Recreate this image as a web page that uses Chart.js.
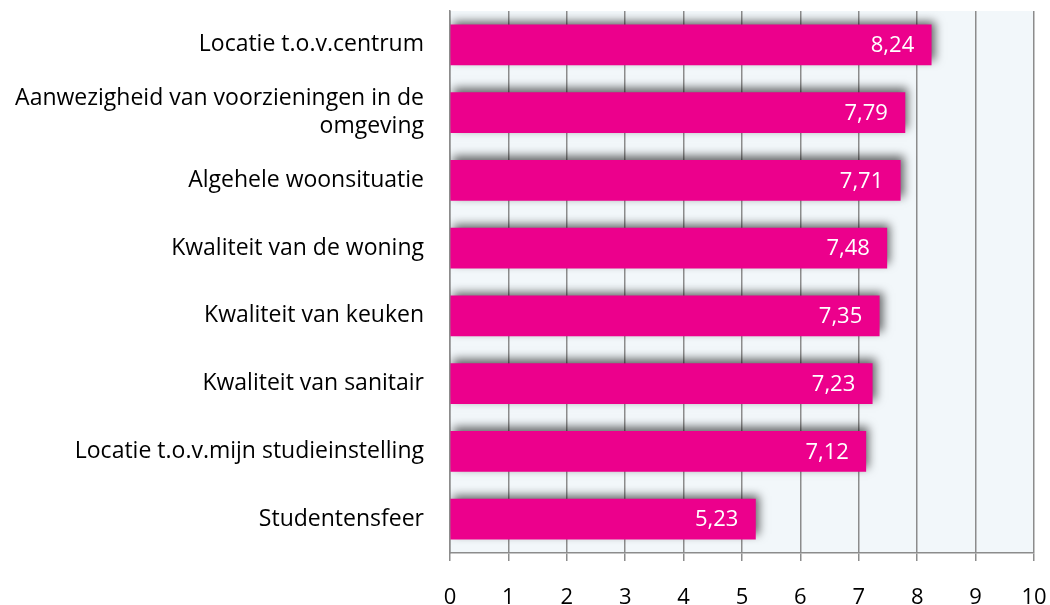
<!DOCTYPE html>
<html>
<head>
<meta charset="utf-8">
<script src="https://cdn.jsdelivr.net/npm/chart.js@4/dist/chart.umd.min.js"></script>
<style>
  html, body { margin: 0; padding: 0; background: #fff; }
  #wrap { width: 1050px; height: 605px; position: relative; }
</style>
</head>
<body>
<div id="wrap"><canvas id="chart"></canvas></div>
<script>
// categories and scores
const categories = [
    'Locatie t.o.v.centrum',
    ['Aanwezigheid van voorzieningen in de', 'omgeving'],
    'Algehele woonsituatie',
    'Kwaliteit van de woning',
    'Kwaliteit van keuken',
    'Kwaliteit van sanitair',
    'Locatie t.o.v.mijn studieinstelling',
    'Studentensfeer'
];
const scores = [8.24, 7.79, 7.71, 7.48, 7.35, 7.23, 7.12, 5.23];
const xTicks = [0, 1, 2, 3, 4, 5, 6, 7, 8, 9, 10];

const FONT = '"Open Sans", Lato, sans-serif';
const BAR_COLOR = '#EC008C';
const GRID_COLOR = '#8c8c8c';

// light plot background
const plotBackground = {
    id: 'plotBackground',
    beforeDraw(chart) {
        const { ctx, chartArea: a } = chart;
        ctx.save();
        ctx.fillStyle = '#F2F7FA';
        ctx.fillRect(a.left, a.top, a.right - a.left, a.bottom - a.top);
        ctx.restore();
    }
};

// soft shadow behind the bars
const barShadow = {
    id: 'barShadow',
    beforeDatasetsDraw(chart) {
        const ctx = chart.ctx;
        ctx.save();
        ctx.shadowColor = 'rgba(0, 0, 0, 0.6)';
        ctx.shadowBlur = 9;
        ctx.shadowOffsetX = 3;
        ctx.shadowOffsetY = -4;
    },
    afterDatasetsDraw(chart) {
        chart.ctx.restore();
    }
};

// value labels inside the bar ends
const valueLabels = {
    id: 'valueLabels',
    afterDatasetsDraw(chart) {
        const ctx = chart.ctx;
        const meta = chart.getDatasetMeta(0);
        ctx.save();
        ctx.fillStyle = '#ffffff';
        ctx.font = '22px ' + FONT;
        ctx.textAlign = 'right';
        ctx.textBaseline = 'middle';
        meta.data.forEach((bar, i) => {
            const txt = scores[i].toFixed(2).replace('.', ',');
            ctx.fillText(txt, bar.x - 17, bar.y + 1);
        });
        ctx.restore();
    }
};

new Chart(document.getElementById('chart'), {
    type: 'bar',
    data: {
        labels: categories,
        datasets: [{
            data: scores,
            backgroundColor: BAR_COLOR,
            borderWidth: 0,
            barThickness: 40
        }]
    },
    options: {
        indexAxis: 'y',
        responsive: true,
        maintainAspectRatio: false,
        animation: false,
        layout: {
            padding: { top: 11, right: 16, left: 0, bottom: 0 }
        },
        plugins: {
            legend: { display: false },
            tooltip: { enabled: false }
        },
        scales: {
            x: {
                min: 0,
                max: 10,
                afterBuildTicks(axis) {
                    axis.ticks = xTicks.map(v => ({ value: v }));
                },
                afterFit(axis) {
                    axis.height = 52;
                    axis.paddingLeft = 0;
                    axis.paddingRight = 0;
                },
                grid: {
                    color: GRID_COLOR,
                    lineWidth: 1.5,
                    tickLength: 8,
                    drawTicks: true
                },
                border: { color: GRID_COLOR, width: 1.5 },
                ticks: {
                    color: '#000',
                    padding: 24,
                    font: { family: FONT, size: 22 }
                }
            },
            y: {
                afterFit(axis) {
                    axis.width = 450;
                    axis.paddingTop = 0;
                    axis.paddingBottom = 0;
                },
                grid: { display: false, drawTicks: false },
                border: { color: GRID_COLOR, width: 1.5 },
                ticks: {
                    color: '#000',
                    padding: 26,
                    font: { family: FONT, size: 23, lineHeight: 1.2 }
                }
            }
        }
    },
    plugins: [plotBackground, barShadow, valueLabels]
});
</script>
</body>
</html>
